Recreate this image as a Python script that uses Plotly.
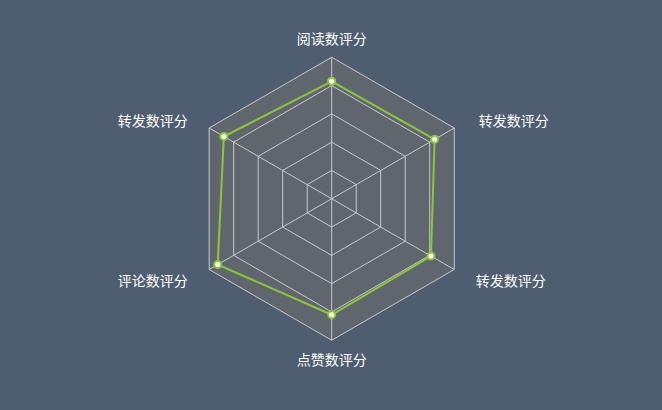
import plotly.graph_objects as go

indicators = ["阅读数评分", "转发数评分", "评论数评分", "点赞数评分", "转发数评分", "转发数评分"]
values = [83, 88, 93, 82, 81, 84]
max_value = 100
ring_values = [20, 40, 60, 80, 100]

# Angular categories must be unique; pad the side labels with non-breaking
# spaces (away from the polygon) which also makes duplicate names distinct.
NB = "\u00a0"
pad = NB * 4
cats = [
    indicators[0],
    indicators[1] + pad,            # upper left
    indicators[2] + pad,            # lower left
    indicators[3],
    pad + indicators[4],            # lower right
    pad + NB + indicators[5],       # upper right (extra space keeps it unique)
]

theta = cats + [cats[0]]
r = values + [values[0]]

fig = go.Figure()
fig.add_trace(go.Scatterpolar(
    r=r, theta=theta, mode="lines+markers",
    line=dict(color="#8cc63f", width=2),
    marker=dict(size=7, color="#ffffff", line=dict(color="#8cc63f", width=2)),
    hoverinfo="skip", showlegend=False,
))

fig.update_layout(
    width=662, height=410,
    paper_bgcolor="#4e5d6f",
    plot_bgcolor="#4e5d6f",
    margin=dict(l=0, r=0, t=0, b=0),
    font=dict(family="Noto Sans CJK SC", size=14, color="#ffffff"),
    polar=dict(
        domain=dict(x=[0.2873, 0.7148], y=[0.170, 0.8605]),
        bgcolor="#5f666e",
        gridshape="linear",
        radialaxis=dict(
            range=[0, max_value], tickvals=ring_values,
            showticklabels=False, ticks="", showline=False,
            gridcolor="#c9c9c9", gridwidth=1,
        ),
        angularaxis=dict(
            type="category", categoryorder="array", categoryarray=cats,
            direction="counterclockwise", rotation=90,
            ticks="outside", ticklen=7, tickcolor="rgba(0,0,0,0)",
            showline=True, linecolor="#c9c9c9", linewidth=1,
            gridcolor="#c9c9c9", gridwidth=1,
            tickfont=dict(size=14, color="#ffffff"),
        ),
    ),
)

fig.write_html(
    "out.html",
    config={"displayModeBar": False},
    post_script="document.body.style.margin='0';document.body.style.background='#4e5d6f';",
)
